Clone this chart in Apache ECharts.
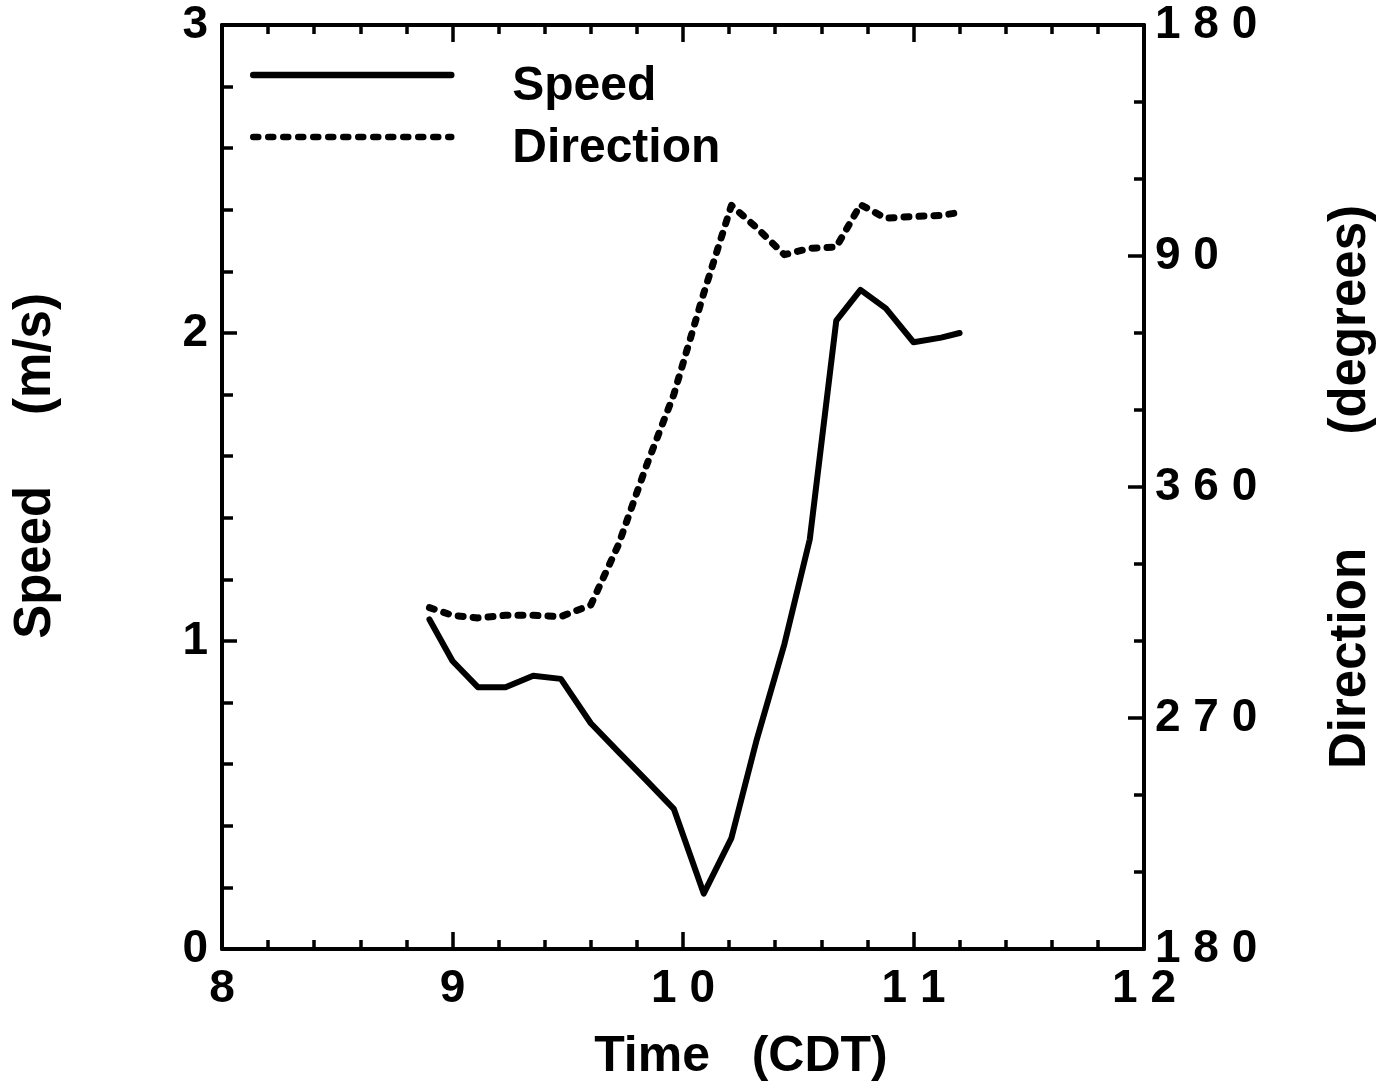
<!DOCTYPE html>
<html>
<head>
<meta charset="utf-8">
<script src="https://cdn.jsdelivr.net/npm/echarts@6/dist/echarts.min.js"></script>
<style>
  html, body { margin: 0; padding: 0; background: #fff; overflow: hidden; }
  #chart { width: 1385px; height: 1088px; }
</style>
</head>
<body>
<div id="chart"></div>
<script>
// Observation times (decimal hours, CDT)
const times = [8.90, 9.00, 9.11, 9.23, 9.35, 9.47, 9.60, 9.72, 9.84, 9.96, 10.09,
               10.21, 10.32, 10.44, 10.55, 10.665, 10.77, 10.88, 11.00, 11.12, 11.20];
// Wind speed (m/s)
const speed = [1.07, 0.935, 0.85, 0.85, 0.887, 0.877, 0.733, 0.64, 0.548, 0.455, 0.18,
               0.36, 0.68, 0.99, 1.33, 2.04, 2.14, 2.08, 1.97, 1.985, 2.0];
// Wind direction (compass degrees)
const direction = [313, 310, 309, 310, 310, 309.5, 314, 337.5, 8, 36, 75.5,
                   109.7, 101, 90.5, 93, 93.5, 110, 104.7, 105.4, 105.8, 107];

// The direction scale runs 180 -> 270 -> 360 -> 90 -> 180, so values past north are unwrapped
const unwrap = d => (d < 180 ? d + 360 : d);
const spaced = s => String(s).split('').join(' ');

const speedData = times.map((t, i) => [t, speed[i]]);
const dirData = times.map((t, i) => [t, unwrap(direction[i])]);

const FONT = '"Liberation Sans", Arial, Helvetica, sans-serif';
const AX = { color: '#000', width: 4 };
const TICK = { color: '#000', width: 3.5 };

const chart = echarts.init(document.getElementById('chart'), null, { renderer: 'canvas' });

chart.setOption({
  animation: false,
  backgroundColor: '#fff',
  grid: { left: 222, right: 225, top: 25, bottom: 126, containLabel: false },
  legend: {
    orient: 'vertical',
    left: 250,
    top: 39,
    padding: 0,
    itemGap: -10,
    itemWidth: 198,
    itemHeight: 20,
    itemStyle: { color: 'rgba(0,0,0,0)', borderWidth: 0, opacity: 0 },
    lineStyle: { width: 6.5 },
    // label sits a little below its line sample
    formatter: name => '\n' + name,
    textStyle: {
      fontFamily: FONT, fontWeight: 'bold', fontSize: 48, color: '#000',
      lineHeight: 24, padding: [0, 0, 0, 56]
    },
    data: ['Speed', 'Direction']
  },
  xAxis: [
    {
      type: 'value', position: 'bottom', min: 8, max: 12, interval: 1,
      name: 'Time   (CDT)', nameLocation: 'middle', nameGap: 82,
      nameTextStyle: { fontFamily: FONT, fontWeight: 'bold', fontSize: 50, color: '#000',
                       lineHeight: 52, padding: [0, 0, 0, 116] },
      axisLine: { lineStyle: AX },
      axisTick: { inside: true, length: 17, lineStyle: TICK },
      minorTick: { show: true, splitNumber: 5, length: 9, lineStyle: TICK },
      axisLabel: { margin: 17, fontFamily: FONT, fontWeight: 'bold', fontSize: 46, color: '#000',
                   formatter: v => spaced(v) },
      splitLine: { show: false }
    },
    {
      type: 'value', position: 'top', min: 8, max: 12, interval: 1,
      axisLine: { lineStyle: AX },
      axisTick: { inside: true, length: 17, lineStyle: TICK },
      minorTick: { show: true, splitNumber: 5, length: 9, lineStyle: TICK },
      axisLabel: { show: false },
      splitLine: { show: false }
    }
  ],
  yAxis: [
    {
      type: 'value', position: 'left', min: 0, max: 3, interval: 1,
      name: 'Speed     (m/s)', nameLocation: 'middle', nameRotate: 90, nameGap: 160,
      nameTextStyle: { fontFamily: FONT, fontWeight: 'bold', fontSize: 51, color: '#000',
                       lineHeight: 52, padding: [0, 0, 0, 42] },
      axisLine: { lineStyle: AX },
      axisTick: { inside: true, length: 15, lineStyle: TICK },
      minorTick: { show: true, splitNumber: 5, length: 11, lineStyle: TICK },
      axisLabel: { margin: 14, fontFamily: FONT, fontWeight: 'bold', fontSize: 46, color: '#000' },
      splitLine: { show: false }
    },
    {
      type: 'value', position: 'right', min: 180, max: 540, interval: 90,
      name: 'Direction        (degrees)', nameLocation: 'middle', nameRotate: 90, nameGap: 181,
      nameTextStyle: { fontFamily: FONT, fontWeight: 'bold', fontSize: 51, color: '#000',
                       lineHeight: 52 },
      axisLine: { lineStyle: AX },
      axisTick: { inside: true, length: 16, lineStyle: TICK },
      minorTick: { show: true, splitNumber: 3, length: 10, lineStyle: TICK },
      axisLabel: { margin: 11, fontFamily: FONT, fontWeight: 'bold', fontSize: 46, color: '#000',
                   formatter: v => spaced(v > 360 ? v - 360 : v) },
      splitLine: { show: false }
    }
  ],
  series: [
    {
      name: 'Speed', type: 'line', xAxisIndex: 0, yAxisIndex: 0,
      data: speedData, symbol: 'none', smooth: false,
      lineStyle: { color: '#000', width: 6, cap: 'round', join: 'round' },
      itemStyle: { color: '#000' }
    },
    {
      name: 'Direction', type: 'line', xAxisIndex: 0, yAxisIndex: 1,
      data: dirData, symbol: 'none', smooth: false,
      lineStyle: { color: '#000', width: 7, type: [5, 10], cap: 'round', join: 'round' },
      itemStyle: { color: '#000' }
    }
  ]
});
</script>
</body>
</html>
